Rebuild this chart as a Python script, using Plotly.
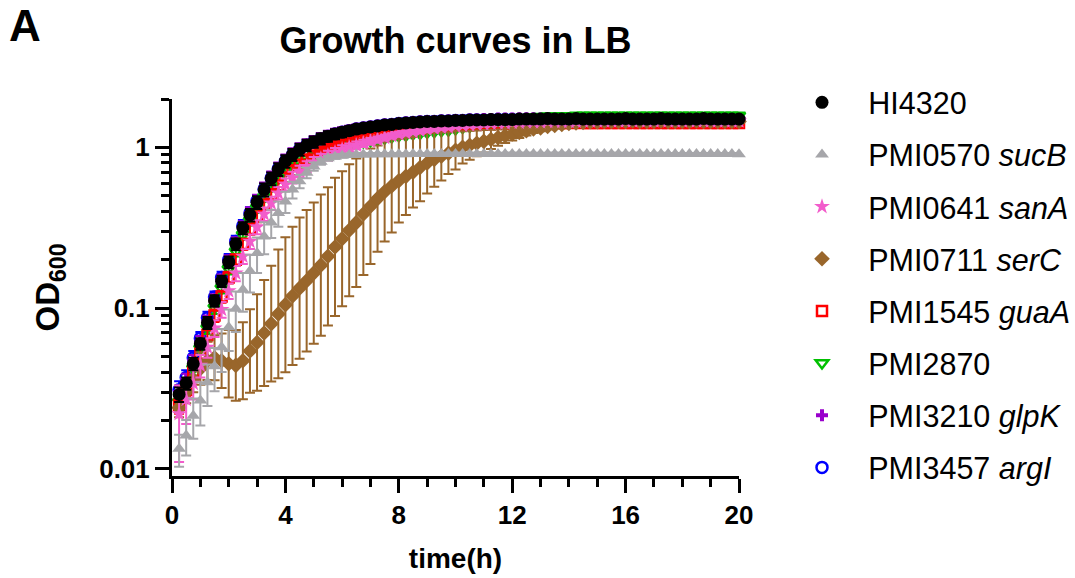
import plotly.graph_objects as go

# sampling times (h): every 15 min from 0.25 h to 20 h
time_h = [round(0.25 * i, 2) for i in range(1, 81)]

strains = ["HI4320", "PMI0570 <i>sucB</i>", "PMI0641 <i>sanA</i>", "PMI0711 <i>serC</i>",
           "PMI1545 <i>guaA</i>", "PMI2870", "PMI3210 <i>glpK</i>", "PMI3457 <i>argI</i>"]

HI4320 = [0.029, 0.034, 0.045, 0.060, 0.081, 0.111, 0.147, 0.193, 0.250, 0.315,
          0.380, 0.455, 0.545, 0.640, 0.730, 0.820, 0.900, 0.970, 1.03, 1.08,
          1.13, 1.17, 1.21, 1.24, 1.27, 1.30, 1.32, 1.34, 1.36, 1.38,
          1.39, 1.41, 1.42, 1.43, 1.44, 1.45, 1.45, 1.46, 1.46, 1.47,
          1.47, 1.48, 1.48, 1.48, 1.49, 1.49, 1.49, 1.49, 1.50, 1.50,
          1.50, 1.50, 1.51, 1.50, 1.50, 1.50, 1.51, 1.50, 1.50, 1.50,
          1.50, 1.50, 1.50, 1.51, 1.50, 1.50, 1.50, 1.50, 1.51, 1.50,
          1.50, 1.50, 1.50, 1.50, 1.51, 1.50, 1.50, 1.50, 1.50, 1.50]
HI4320_sd = [0.003, 0.003, 0.004, 0.005, 0.007, 0.009, 0.012, 0.016, 0.021, 0.027,
             0.034, 0.042, 0.050, 0.058, 0.066, 0.072, 0.078, 0.082, 0.085, 0.087,
             0.088, 0.088, 0.087, 0.085, 0.082, 0.079, 0.075, 0.071, 0.067, 0.063,
             0.059, 0.055, 0.051, 0.048, 0.045, 0.042, 0.040, 0.038, 0.036, 0.035,
             0.034, 0.033, 0.032, 0.031, 0.030, 0.030, 0.029, 0.029, 0.028, 0.028,
             0.028, 0.028, 0.028, 0.028, 0.028, 0.028, 0.028, 0.028, 0.028, 0.028,
             0.028, 0.028, 0.028, 0.028, 0.028, 0.028, 0.028, 0.028, 0.028, 0.028,
             0.028, 0.028, 0.028, 0.028, 0.028, 0.028, 0.028, 0.028, 0.028, 0.028]

sucB = [0.0133, 0.0161, 0.0214, 0.0266, 0.0346, 0.0434, 0.057, 0.076, 0.099, 0.130,
        0.170, 0.220, 0.279, 0.341, 0.391, 0.460, 0.546, 0.616, 0.695, 0.760,
        0.815, 0.855, 0.875, 0.887, 0.895, 0.900, 0.902, 0.904, 0.905, 0.906,
        0.906, 0.907, 0.907, 0.908, 0.908, 0.908, 0.909, 0.909, 0.909, 0.910,
        0.910, 0.909, 0.910, 0.911, 0.910, 0.909, 0.910, 0.910, 0.911, 0.910,
        0.910, 0.909, 0.910, 0.910, 0.911, 0.910, 0.909, 0.910, 0.910, 0.910,
        0.909, 0.910, 0.910, 0.909, 0.910, 0.910, 0.909, 0.909, 0.910, 0.909,
        0.909, 0.908, 0.909, 0.909, 0.908, 0.908, 0.909, 0.908, 0.908, 0.907]
sucB_sd = [0.003, 0.004, 0.006, 0.008, 0.010, 0.013, 0.017, 0.022, 0.028, 0.035,
           0.045, 0.055, 0.063, 0.068, 0.070, 0.070, 0.066, 0.060, 0.052, 0.044,
           0.036, 0.030, 0.026, 0.023, 0.021, 0.020, 0.019, 0.018, 0.018, 0.017,
           0.017, 0.017, 0.017, 0.016, 0.016, 0.016, 0.016, 0.016, 0.016, 0.016,
           0.016, 0.016, 0.015, 0.015, 0.015, 0.015, 0.015, 0.015, 0.015, 0.015,
           0.015, 0.015, 0.015, 0.015, 0.015, 0.015, 0.015, 0.015, 0.015, 0.015,
           0.015, 0.015, 0.015, 0.015, 0.015, 0.015, 0.015, 0.015, 0.015, 0.015,
           0.015, 0.015, 0.015, 0.015, 0.015, 0.015, 0.015, 0.015, 0.015, 0.015]

sanA = [0.022, 0.027, 0.034, 0.044, 0.057, 0.075, 0.098, 0.128, 0.165, 0.210,
        0.260, 0.320, 0.385, 0.450, 0.520, 0.590, 0.650, 0.710, 0.760, 0.810,
        0.850, 0.890, 0.930, 0.970, 1.00, 1.03, 1.06, 1.09, 1.12, 1.15,
        1.18, 1.21, 1.23, 1.25, 1.27, 1.29, 1.31, 1.33, 1.34, 1.36,
        1.37, 1.38, 1.39, 1.40, 1.41, 1.42, 1.42, 1.43, 1.43, 1.44,
        1.44, 1.44, 1.45, 1.45, 1.45, 1.45, 1.45, 1.46, 1.46, 1.46,
        1.46, 1.46, 1.46, 1.46, 1.46, 1.47, 1.46, 1.46, 1.47, 1.46,
        1.46, 1.46, 1.47, 1.46, 1.46, 1.46, 1.46, 1.46, 1.46, 1.46]
sanA_sd = [0.011, 0.008, 0.007, 0.007, 0.008, 0.009, 0.011, 0.014, 0.018, 0.022,
           0.027, 0.032, 0.037, 0.042, 0.047, 0.051, 0.055, 0.058, 0.060, 0.061,
           0.062, 0.062, 0.061, 0.060, 0.058, 0.056, 0.054, 0.052, 0.050, 0.048,
           0.046, 0.044, 0.042, 0.040, 0.039, 0.038, 0.037, 0.036, 0.035, 0.034,
           0.033, 0.033, 0.032, 0.032, 0.031, 0.031, 0.030, 0.030, 0.030, 0.030,
           0.030, 0.030, 0.030, 0.030, 0.030, 0.030, 0.030, 0.030, 0.030, 0.030,
           0.030, 0.030, 0.030, 0.030, 0.030, 0.030, 0.030, 0.030, 0.030, 0.030,
           0.030, 0.030, 0.030, 0.030, 0.030, 0.030, 0.030, 0.030, 0.030, 0.030]

serC = [0.024, 0.030, 0.036, 0.042, 0.047, 0.049, 0.047, 0.045, 0.044, 0.047,
        0.054, 0.061, 0.070, 0.080, 0.092, 0.105, 0.119, 0.133, 0.148, 0.165,
        0.185, 0.210, 0.240, 0.270, 0.305, 0.340, 0.385, 0.430, 0.480, 0.530,
        0.575, 0.620, 0.660, 0.700, 0.750, 0.800, 0.840, 0.880, 0.920, 0.960,
        1.00, 1.03, 1.06, 1.09, 1.12, 1.15, 1.18, 1.21, 1.24, 1.27,
        1.30, 1.32, 1.35, 1.37, 1.39, 1.41, 1.42, 1.43, 1.44, 1.44,
        1.45, 1.45, 1.45, 1.45, 1.46, 1.45, 1.45, 1.45, 1.46, 1.45,
        1.45, 1.45, 1.45, 1.46, 1.45, 1.45, 1.45, 1.45, 1.45, 1.45]
# spread of serC replicates, in decades (log10 units)
serC_logsd = [0.06, 0.07, 0.08, 0.10, 0.12, 0.14, 0.17, 0.21, 0.22, 0.24,
              0.26, 0.30, 0.33, 0.36, 0.40, 0.42, 0.43, 0.44, 0.44, 0.44,
              0.44, 0.43, 0.43, 0.42, 0.41, 0.40, 0.38, 0.36, 0.33, 0.31,
              0.29, 0.26, 0.24, 0.22, 0.21, 0.19, 0.17, 0.15, 0.13, 0.12,
              0.10, 0.09, 0.08, 0.07, 0.06, 0.05, 0.045, 0.04, 0.035, 0.03,
              0.025, 0.02, 0.018, 0.016, 0.014, 0.012, 0.011, 0.010, 0.010, 0.010,
              0.010, 0.010, 0.010, 0.010, 0.010, 0.010, 0.010, 0.010, 0.010, 0.010,
              0.010, 0.010, 0.010, 0.010, 0.010, 0.010, 0.010, 0.010, 0.010, 0.010]

guaA = [0.025, 0.031, 0.040, 0.052, 0.068, 0.090, 0.118, 0.155, 0.200, 0.250,
        0.310, 0.370, 0.440, 0.510, 0.580, 0.650, 0.720, 0.780, 0.840, 0.890,
        0.940, 0.980, 1.02, 1.06, 1.09, 1.12, 1.15, 1.18, 1.20, 1.22,
        1.24, 1.26, 1.28, 1.30, 1.31, 1.33, 1.34, 1.35, 1.36, 1.37,
        1.38, 1.39, 1.39, 1.40, 1.40, 1.41, 1.41, 1.41, 1.42, 1.42,
        1.42, 1.42, 1.42, 1.42, 1.42, 1.42, 1.43, 1.42, 1.42, 1.42,
        1.42, 1.42, 1.42, 1.42, 1.42, 1.42, 1.42, 1.42, 1.42, 1.42,
        1.42, 1.42, 1.42, 1.42, 1.42, 1.42, 1.42, 1.42, 1.42, 1.42]
guaA_sd = [0.003, 0.003, 0.004, 0.005, 0.006, 0.008, 0.010, 0.013, 0.016, 0.020,
           0.024, 0.028, 0.032, 0.036, 0.040, 0.043, 0.046, 0.048, 0.050, 0.051,
           0.052, 0.052, 0.052, 0.051, 0.050, 0.049, 0.048, 0.047, 0.046, 0.045,
           0.044, 0.043, 0.042, 0.041, 0.040, 0.039, 0.038, 0.037, 0.036, 0.035,
           0.034, 0.033, 0.032, 0.031, 0.030, 0.030, 0.030, 0.030, 0.030, 0.030,
           0.030, 0.030, 0.030, 0.030, 0.030, 0.030, 0.030, 0.030, 0.030, 0.030,
           0.030, 0.030, 0.030, 0.030, 0.030, 0.030, 0.030, 0.030, 0.030, 0.030,
           0.030, 0.030, 0.030, 0.030, 0.030, 0.030, 0.030, 0.030, 0.030, 0.030]

PMI2870 = [0.026, 0.032, 0.042, 0.056, 0.075, 0.100, 0.133, 0.175, 0.225, 0.285,
           0.350, 0.420, 0.490, 0.570, 0.640, 0.710, 0.760, 0.810, 0.850, 0.890,
           0.920, 0.950, 0.985, 1.02, 1.04, 1.06, 1.08, 1.10, 1.12, 1.14,
           1.16, 1.18, 1.19, 1.21, 1.22, 1.24, 1.25, 1.27, 1.28, 1.30,
           1.33, 1.35, 1.38, 1.40, 1.43, 1.45, 1.47, 1.49, 1.51, 1.52,
           1.54, 1.55, 1.56, 1.56, 1.57, 1.57, 1.58, 1.58, 1.58, 1.58,
           1.58, 1.58, 1.58, 1.58, 1.58, 1.58, 1.58, 1.58, 1.58, 1.58,
           1.58, 1.58, 1.58, 1.58, 1.58, 1.58, 1.58, 1.58, 1.58, 1.58]
PMI2870_sd = [0.003, 0.003, 0.004, 0.005, 0.006, 0.008, 0.010, 0.013, 0.016, 0.020,
              0.024, 0.028, 0.032, 0.036, 0.040, 0.043, 0.045, 0.047, 0.048, 0.049,
              0.050, 0.050, 0.049, 0.048, 0.047, 0.046, 0.045, 0.044, 0.043, 0.042,
              0.041, 0.040, 0.039, 0.038, 0.037, 0.036, 0.035, 0.034, 0.033, 0.032,
              0.031, 0.030, 0.030, 0.030, 0.030, 0.030, 0.030, 0.030, 0.030, 0.030,
              0.030, 0.030, 0.030, 0.030, 0.030, 0.030, 0.030, 0.030, 0.030, 0.030,
              0.030, 0.030, 0.030, 0.030, 0.030, 0.030, 0.030, 0.030, 0.030, 0.030,
              0.030, 0.030, 0.030, 0.030, 0.030, 0.030, 0.030, 0.030, 0.030, 0.030]

glpK = [0.030, 0.036, 0.047, 0.062, 0.083, 0.113, 0.150, 0.197, 0.255, 0.320,
        0.390, 0.465, 0.555, 0.650, 0.740, 0.830, 0.910, 0.980, 1.04, 1.09,
        1.14, 1.18, 1.22, 1.25, 1.28, 1.31, 1.33, 1.35, 1.37, 1.39,
        1.40, 1.42, 1.43, 1.44, 1.45, 1.46, 1.46, 1.47, 1.47, 1.48,
        1.48, 1.49, 1.49, 1.50, 1.50, 1.51, 1.51, 1.51, 1.52, 1.52,
        1.52, 1.52, 1.52, 1.52, 1.52, 1.52, 1.52, 1.52, 1.52, 1.52,
        1.52, 1.52, 1.52, 1.52, 1.52, 1.52, 1.52, 1.52, 1.52, 1.52,
        1.52, 1.52, 1.52, 1.52, 1.52, 1.52, 1.52, 1.52, 1.52, 1.52]
glpK_sd = [0.003, 0.003, 0.004, 0.005, 0.007, 0.009, 0.012, 0.016, 0.021, 0.027,
           0.034, 0.042, 0.050, 0.058, 0.066, 0.072, 0.078, 0.082, 0.085, 0.087,
           0.088, 0.088, 0.087, 0.085, 0.082, 0.079, 0.075, 0.071, 0.067, 0.063,
           0.059, 0.055, 0.051, 0.048, 0.045, 0.042, 0.040, 0.038, 0.036, 0.035,
           0.034, 0.033, 0.032, 0.031, 0.030, 0.030, 0.029, 0.029, 0.028, 0.028,
           0.028, 0.028, 0.028, 0.028, 0.028, 0.028, 0.028, 0.028, 0.028, 0.028,
           0.028, 0.028, 0.028, 0.028, 0.028, 0.028, 0.028, 0.028, 0.028, 0.028,
           0.028, 0.028, 0.028, 0.028, 0.028, 0.028, 0.028, 0.028, 0.028, 0.028]

argI = [0.031, 0.037, 0.049, 0.065, 0.087, 0.117, 0.155, 0.200, 0.260, 0.325,
        0.390, 0.465, 0.550, 0.645, 0.735, 0.820, 0.900, 0.970, 1.03, 1.08,
        1.13, 1.17, 1.21, 1.24, 1.27, 1.30, 1.32, 1.34, 1.36, 1.38,
        1.39, 1.41, 1.42, 1.43, 1.44, 1.45, 1.45, 1.46, 1.46, 1.47,
        1.47, 1.48, 1.48, 1.48, 1.48, 1.49, 1.49, 1.49, 1.49, 1.49,
        1.49, 1.49, 1.49, 1.49, 1.49, 1.49, 1.49, 1.49, 1.49, 1.49,
        1.49, 1.49, 1.49, 1.49, 1.49, 1.49, 1.49, 1.49, 1.49, 1.49,
        1.49, 1.49, 1.49, 1.49, 1.49, 1.49, 1.49, 1.49, 1.49, 1.49]
argI_sd = [0.004, 0.004, 0.005, 0.006, 0.008, 0.010, 0.013, 0.017, 0.022, 0.028,
           0.034, 0.041, 0.048, 0.055, 0.062, 0.068, 0.073, 0.077, 0.080, 0.082,
           0.083, 0.083, 0.082, 0.080, 0.077, 0.074, 0.070, 0.066, 0.062, 0.058,
           0.055, 0.052, 0.049, 0.046, 0.043, 0.041, 0.039, 0.037, 0.035, 0.034,
           0.033, 0.032, 0.031, 0.030, 0.030, 0.029, 0.029, 0.028, 0.028, 0.028,
           0.028, 0.028, 0.028, 0.028, 0.028, 0.028, 0.028, 0.028, 0.028, 0.028,
           0.028, 0.028, 0.028, 0.028, 0.028, 0.028, 0.028, 0.028, 0.028, 0.028,
           0.028, 0.028, 0.028, 0.028, 0.028, 0.028, 0.028, 0.028, 0.028, 0.028]

y_major = [0.01, 0.1, 1]
y_major_text = ["0.01", "0.1", "1"]
y_minor = [0.02, 0.03, 0.04, 0.05, 0.06, 0.07, 0.08, 0.09,
           0.2, 0.3, 0.4, 0.5, 0.6, 0.7, 0.8, 0.9, 2]
x_major = [0, 4, 8, 12, 16, 20]
x_minor = [1, 2, 3, 5, 6, 7, 9, 10, 11, 13, 14, 15, 17, 18, 19]

# serC bar ends from log spread
serC_hi = [v * (10 ** d) - v for v, d in zip(serC, serC_logsd)]
serC_lo = [v - v / (10 ** d) for v, d in zip(serC, serC_logsd)]

FONT = "Liberation Sans, Arial, sans-serif"

# drawing order: bottom -> top; legend order via legendrank
series = [
    dict(name=strains[7], rank=8, y=argI, sd=argI_sd, color="#0000FF", symbol="circle-open", size=11, lw=2.5),
    dict(name=strains[6], rank=7, y=glpK, sd=glpK_sd, color="#9900CC", symbol="cross", size=10, lw=0),
    dict(name=strains[5], rank=6, y=PMI2870, sd=PMI2870_sd, color="#00C000", symbol="triangle-down-open", size=11, lw=2.5),
    dict(name=strains[4], rank=5, y=guaA, sd=guaA_sd, color="#FF0000", symbol="square-open", size=10, lw=2.5),
    dict(name=strains[3], rank=4, y=serC, sd=None, color="#99662B", symbol="diamond", size=12, lw=0),
    dict(name=strains[2], rank=3, y=sanA, sd=sanA_sd, color="#F25CCB", symbol="star", size=12, lw=0),
    dict(name=strains[1], rank=2, y=sucB, sd=sucB_sd, color="#A6A6AA", symbol="triangle-up", size=12, lw=0),
    dict(name=strains[0], rank=1, y=HI4320, sd=HI4320_sd, color="#000000", symbol="circle", size=13, lw=0),
]

PLOT_L, PLOT_R, PLOT_T, PLOT_B = 172, 739, 99, 476
PW, PH = PLOT_R - PLOT_L, PLOT_B - PLOT_T

fig = go.Figure()
for i, s in enumerate(series):
    if s["sd"] is None:
        err = dict(type="data", array=serC_hi, arrayminus=serC_lo, symmetric=False,
                   color=s["color"], thickness=2, width=5)
    else:
        err = dict(type="data", array=s["sd"], color=s["color"], thickness=2, width=5)
    fig.add_trace(go.Scatter(
        x=time_h, y=s["y"], name="\u2002" + s["name"], mode="markers",
        legendgroup="g%d" % s["rank"], legendrank=s["rank"],
        marker=dict(symbol=s["symbol"], size=s["size"], color=s["color"],
                    line=dict(width=s["lw"], color=s["color"])),
        error_y=err, cliponaxis=False,
    ))

fig.update_layout(
    width=1075, height=578,
    margin=dict(l=PLOT_L, r=1075 - PLOT_R, t=PLOT_T, b=578 - PLOT_B, autoexpand=False),
    paper_bgcolor="white", plot_bgcolor="white",
    font=dict(family=FONT, color="black"),
    title=dict(text="Growth curves in LB", x=0.5, xref="paper", xanchor="center",
               y=1 - 40 / 578, yref="container", yanchor="middle",
               font=dict(size=36, weight="bold", family=FONT, color="black")),
    showlegend=True,
    legend=dict(traceorder="grouped", tracegroupgap=9.5, maxheight=560,
                x=(791 - PLOT_L) / PW, xanchor="left", y=(PLOT_B - 76) / PH, yanchor="top",
                font=dict(size=30.5, family=FONT, color="black"),
                itemwidth=52, bgcolor="rgba(0,0,0,0)"),
    xaxis=dict(range=[0, 20], tickvals=x_major, ticktext=[str(v) for v in x_major],
               showline=True, linewidth=3, linecolor="black", mirror=False,
               ticks="outside", ticklen=14, tickwidth=3, tickcolor="black",
               showgrid=False, zeroline=False, automargin=False,
               tickfont=dict(size=26, weight="bold", family=FONT, color="black"),
               minor=dict(tickvals=x_minor, ticks="outside", ticklen=8, tickwidth=3,
                          tickcolor="black", showgrid=False),
               title=dict(text="time(h)", standoff=20,
                          font=dict(size=28, weight="bold", family=FONT, color="black"))),
    yaxis=dict(type="log", range=[-2.045, 0.301], tickvals=y_major, ticktext=y_major_text,
               showline=True, linewidth=3, linecolor="black",
               ticks="outside", ticklen=14, tickwidth=3, tickcolor="black",
               showgrid=False, zeroline=False, automargin=False,
               tickfont=dict(size=26, weight="bold", family=FONT, color="black"),
               minor=dict(tickvals=y_minor, ticks="outside", ticklen=8, tickwidth=3,
                          tickcolor="black", showgrid=False),
               title=dict(text="OD<sub>600</sub>", standoff=30,
                          font=dict(size=33, weight="bold", family=FONT, color="black"))),
    annotations=[dict(text="<b>A</b>", xref="paper", yref="paper",
                      x=(7 - PLOT_L) / PW, y=(PLOT_B + 1) / PH, xanchor="left", yanchor="top",
                      showarrow=False, font=dict(size=44, family=FONT, color="black"))],
)

fig.write_html("out.html", config={"displayModeBar": False},
               post_script="document.body.style.margin='0px';")
